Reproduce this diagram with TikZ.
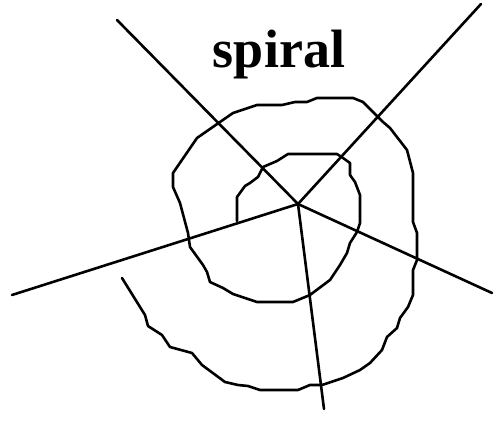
\documentclass[tikz,border=0pt]{standalone}
\usepackage{fontspec}
\setmainfont{Liberation Serif}
\begin{document}
\begin{tikzpicture}[x=1pt,y=-1pt,
  stroke/.style={line width=2.6pt,line join=round,line cap=round,black}]
\useasboundingbox (0,0) rectangle (496,438);
\node[font=\bfseries\fontsize{54}{60}\selectfont,anchor=base] (title) at (279,68) {spiral};
\coordinate (c) at (298,204);
\coordinate (tl) at (117,20);
\coordinate (tr) at (481,4);
\coordinate (l) at (12,295);
\coordinate (r) at (492,293);
\coordinate (b) at (324,409);
\draw[stroke] (c) -- (tl);
\draw[stroke] (c) -- (tr);
\draw[stroke] (c) -- (l);
\draw[stroke] (c) -- (r);
\draw[stroke] (c) -- (b);
\draw[stroke] (237,221) -- (237,197) -- (245,186) -- (250,183) -- (258,177) -- (263,167) -- (277,161) -- (288,154) -- (337,154) -- (343,158) -- (350,163) -- (350,175) -- (355,182) -- (360,195) -- (360,223) -- (357,232) -- (350,243) -- (347,253) -- (340,265) -- (330,280) -- (310,295) -- (293,302) -- (257,302) -- (233,294) -- (223,288) -- (210,282) -- (207,272) -- (203,265) -- (190,247) -- (188,233) -- (180,203) -- (173,187) -- (173,173) -- (197,138) -- (233,113) -- (257,105) -- (282,105) -- (295,102) -- (307,102) -- (317,98) -- (353,98) -- (363,102) -- (383,122) -- (390,128) -- (407,150) -- (413,173) -- (413,222) -- (417,233) -- (417,260) -- (413,270) -- (413,295) -- (408,307) -- (400,318) -- (397,328) -- (387,337) -- (382,350) -- (370,363) -- (360,370) -- (343,378) -- (322,385) -- (310,385) -- (298,390) -- (260,390) -- (248,386) -- (238,385) -- (225,382) -- (202,365) -- (192,353) -- (170,347) -- (162,335) -- (148,326) -- (145,315) -- (122,278);
\end{tikzpicture}
\end{document}
